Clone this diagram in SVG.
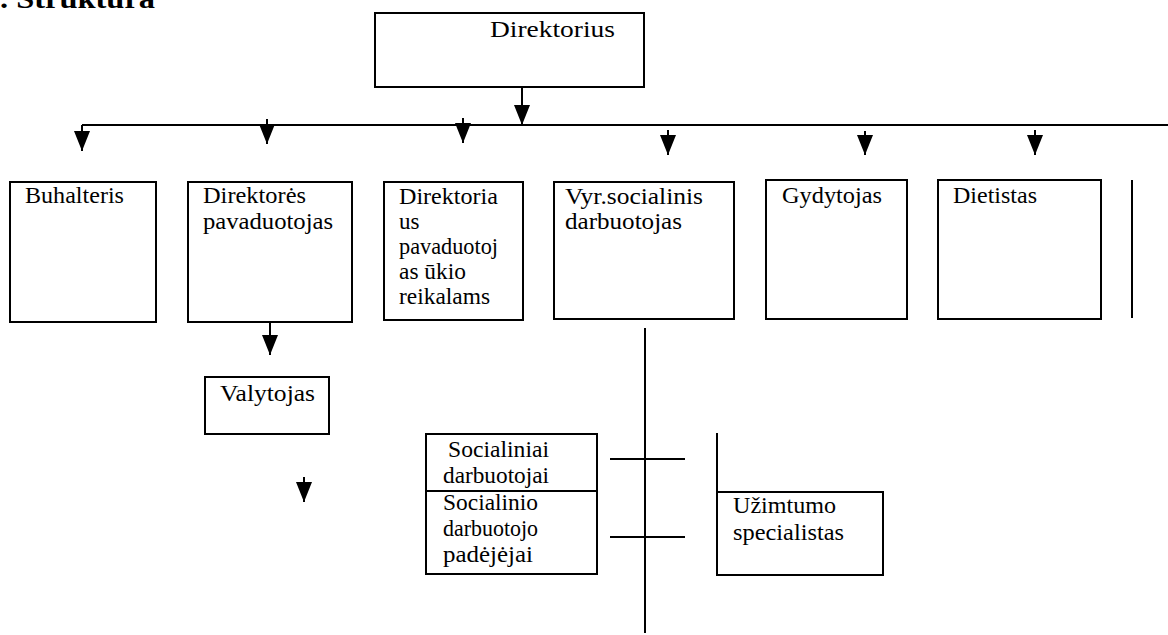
<svg xmlns="http://www.w3.org/2000/svg" width="1168" height="635" viewBox="0 0 1168 635">
<style>
.box{fill:#fff;stroke:#000;stroke-width:2}
.ln{stroke:#000;stroke-width:2;fill:none}
.t{font-family:"Liberation Serif","Times New Roman",serif;font-size:23px;fill:#000}
.title{font-family:"Liberation Serif","Times New Roman",serif;font-size:27px;font-weight:bold;fill:#000}
</style>
<defs>
<marker id="ah" viewBox="0 0 20 16" markerWidth="20" markerHeight="16" refX="20" refY="8" orient="auto" markerUnits="userSpaceOnUse">
<path d="M0,0 L20,8 L0,16 z" fill="#000"/>
</marker>
</defs>
<rect width="1168" height="635" fill="#fff"/>
<text class="title" x="0" y="8" textLength="155" lengthAdjust="spacingAndGlyphs">. Struktura</text>

<g id="connectors">
<line class="ln" x1="82" y1="125" x2="1168" y2="125"/>
<line class="ln" x1="522" y1="77" x2="522" y2="125" marker-end="url(#ah)"/>
<line class="ln" x1="82" y1="125" x2="82" y2="151" marker-end="url(#ah)"/>
<line class="ln" x1="267" y1="119" x2="267" y2="144" marker-end="url(#ah)"/>
<line class="ln" x1="463" y1="118" x2="463" y2="143" marker-end="url(#ah)"/>
<line class="ln" x1="668" y1="130" x2="668" y2="155" marker-end="url(#ah)"/>
<line class="ln" x1="865" y1="131" x2="865" y2="155" marker-end="url(#ah)"/>
<line class="ln" x1="1035" y1="130" x2="1035" y2="155" marker-end="url(#ah)"/>
<line class="ln" x1="270" y1="307" x2="270" y2="355" marker-end="url(#ah)"/>
<line class="ln" x1="304" y1="477" x2="304" y2="502" marker-end="url(#ah)"/>
<line class="ln" x1="645" y1="328" x2="645" y2="633"/>
<line class="ln" x1="610" y1="459" x2="685" y2="459"/>
<line class="ln" x1="610" y1="537" x2="685" y2="537"/>
<line class="ln" x1="717" y1="433" x2="717" y2="492"/>
<line class="ln" x1="1132" y1="180" x2="1132" y2="318"/>
</g>

<g id="direktorius">
<rect class="box" x="375" y="13" width="269" height="74"/>
<text class="t" x="490" y="37" textLength="125" lengthAdjust="spacingAndGlyphs">Direktorius</text>
</g>

<g id="buhalteris">
<rect class="box" x="10" y="182" width="146" height="140"/>
<text class="t" x="25" y="203" textLength="99" lengthAdjust="spacingAndGlyphs">Buhalteris</text>
</g>

<g id="direktores-pavaduotojas">
<rect class="box" x="188" y="182" width="164" height="140"/>
<text class="t" x="203" y="203" textLength="103" lengthAdjust="spacingAndGlyphs">Direktorės</text>
<text class="t" x="203" y="229" textLength="130" lengthAdjust="spacingAndGlyphs">pavaduotojas</text>
</g>

<g id="direktoriaus-pavaduotojas">
<rect class="box" x="384" y="182" width="139" height="138"/>
<text class="t" x="399" y="204" textLength="99" lengthAdjust="spacingAndGlyphs">Direktoria</text>
<text class="t" x="399" y="229">us</text>
<text class="t" x="399" y="254" textLength="99" lengthAdjust="spacingAndGlyphs">pavaduotoj</text>
<text class="t" x="399" y="279" textLength="67" lengthAdjust="spacingAndGlyphs">as ūkio</text>
<text class="t" x="399" y="304" textLength="91" lengthAdjust="spacingAndGlyphs">reikalams</text>
</g>

<g id="vyr-socialinis">
<rect class="box" x="554" y="182" width="180" height="137"/>
<text class="t" x="565" y="204" textLength="138" lengthAdjust="spacingAndGlyphs">Vyr.socialinis</text>
<text class="t" x="565" y="229" textLength="117" lengthAdjust="spacingAndGlyphs">darbuotojas</text>
</g>

<g id="gydytojas">
<rect class="box" x="766" y="180" width="141" height="139"/>
<text class="t" x="782" y="203" textLength="100" lengthAdjust="spacingAndGlyphs">Gydytojas</text>
</g>

<g id="dietistas">
<rect class="box" x="938" y="180" width="163" height="139"/>
<text class="t" x="953" y="203" textLength="84" lengthAdjust="spacingAndGlyphs">Dietistas</text>
</g>

<g id="valytojas">
<rect class="box" x="205" y="377" width="124" height="57"/>
<text class="t" x="220" y="401" textLength="95" lengthAdjust="spacingAndGlyphs">Valytojas</text>
</g>

<g id="socialiniai-darbuotojai">
<rect class="box" x="426" y="434" width="171" height="57"/>
<text class="t" x="448" y="457" textLength="101" lengthAdjust="spacingAndGlyphs">Socialiniai</text>
<text class="t" x="443" y="483" textLength="106" lengthAdjust="spacingAndGlyphs">darbuotojai</text>
</g>

<g id="socialinio-padejejai">
<rect class="box" x="426" y="491" width="171" height="83"/>
<text class="t" x="443" y="510" textLength="95" lengthAdjust="spacingAndGlyphs">Socialinio</text>
<text class="t" x="443" y="536" textLength="95" lengthAdjust="spacingAndGlyphs">darbuotojo</text>
<text class="t" x="443" y="562" textLength="90" lengthAdjust="spacingAndGlyphs">padėjėjai</text>
</g>

<g id="uzimtumo-specialistas">
<rect class="box" x="717" y="492" width="166" height="83"/>
<text class="t" x="733" y="513" textLength="103" lengthAdjust="spacingAndGlyphs">Užimtumo</text>
<text class="t" x="733" y="540" textLength="111" lengthAdjust="spacingAndGlyphs">specialistas</text>
</g>
</svg>
